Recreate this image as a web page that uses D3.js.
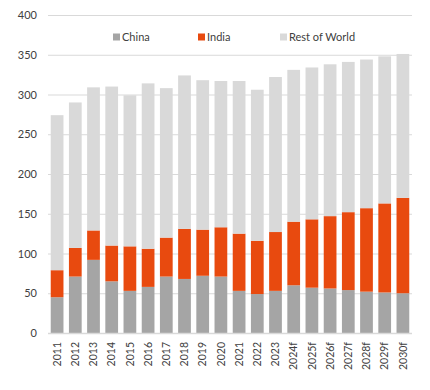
<!DOCTYPE html>
<html>
<head>
<meta charset="utf-8">
<script src="https://cdn.jsdelivr.net/npm/d3@7"></script>
<style>
  html, body { margin: 0; padding: 0; background: #fff; }
  svg { display: block; }
</style>
</head>
<body>
<div id="chart"></div>
<script>
// Annual values by region, 2011 to 2030 (forecast years marked "f")
const years = ["2011","2012","2013","2014","2015","2016","2017","2018","2019","2020",
               "2021","2022","2023","2024f","2025f","2026f","2027f","2028f","2029f","2030f"];
const china = [45,71,92,65,53,58,71,68,72,71,53,49,53,60,57,56,54,52,51,50];
const india = [34,36,37,45,56,48,49,63,58,62,72,67,74,80,86,91,98,105,112,120];
const restOfWorld = [195,183,180,200,190,208,188,193,188,184,192,190,195,191,191,191,189,187,185,181];
const seriesNames = ["China", "India", "Rest of World"];
const yTicks = [0,50,100,150,200,250,300,350,400];

const colors = { "China": "#a5a5a5", "India": "#e84a0f", "Rest of World": "#d9d9d9" };

const W = 430, H = 390;
const margin = { top: 15, right: 18, bottom: 57, left: 48 };
const innerW = W - margin.left - margin.right;
const innerH = H - margin.top - margin.bottom;
const font = "Lato, 'Open Sans', sans-serif";

const rows = years.map((y, i) => ({
  year: y, "China": china[i], "India": india[i], "Rest of World": restOfWorld[i]
}));
const stacked = d3.stack().keys(seriesNames)(rows);

const x = d3.scaleBand().domain(years).range([0, innerW]).paddingInner(0.3).paddingOuter(0.15);
const y = d3.scaleLinear().domain([0, 400]).range([innerH, 0]);

const svg = d3.select("#chart").append("svg").attr("width", W).attr("height", H);
const g = svg.append("g").attr("transform", `translate(${margin.left},${margin.top})`);

// horizontal gridlines
g.append("g").selectAll("line").data(yTicks).join("line")
  .attr("x1", 0).attr("x2", innerW)
  .attr("y1", d => y(d) + 0.5).attr("y2", d => y(d) + 0.5)
  .attr("stroke", "#d9d9d9").attr("stroke-width", 1);

// stacked bars
g.append("g").selectAll("g").data(stacked).join("g")
  .attr("fill", d => colors[d.key])
  .selectAll("rect").data(d => d).join("rect")
  .attr("x", d => x(d.data.year))
  .attr("width", x.bandwidth())
  .attr("y", d => y(d[1]))
  .attr("height", d => y(d[0]) - y(d[1]));

// baseline
g.append("line").attr("x1", 0).attr("x2", innerW)
  .attr("y1", innerH + 0.5).attr("y2", innerH + 0.5)
  .attr("stroke", "#d9d9d9").attr("stroke-width", 1.5);

// y axis
const yAxis = g.append("g").call(d3.axisLeft(y).tickValues(yTicks).tickSize(0).tickPadding(11));
yAxis.select(".domain").remove();
yAxis.selectAll("text").attr("font-family", font).attr("font-size", 11).attr("fill", "#404040");

// x axis with vertical labels
const xAxis = g.append("g").attr("transform", `translate(0,${innerH})`)
  .call(d3.axisBottom(x).tickSize(0));
xAxis.select(".domain").remove();
xAxis.selectAll("text")
  .attr("font-family", font).attr("font-size", 10.5).attr("fill", "#404040")
  .attr("transform", "rotate(-90)")
  .attr("text-anchor", "end")
  .attr("x", -9).attr("y", 0).attr("dy", "0.35em");

// legend
const legendX = [113, 198, 280];
const legend = svg.append("g").attr("transform", "translate(0,37)");
const item = legend.selectAll("g").data(seriesNames).join("g")
  .attr("transform", (d, i) => `translate(${legendX[i]},0)`);
item.append("rect").attr("x", 0).attr("y", -3.5).attr("width", 7).attr("height", 7)
  .attr("fill", d => colors[d]);
item.append("text").attr("x", 9).attr("y", 0).attr("dy", "0.35em")
  .attr("font-family", font).attr("font-size", 11).attr("fill", "#404040")
  .text(d => d);
</script>
</body>
</html>
